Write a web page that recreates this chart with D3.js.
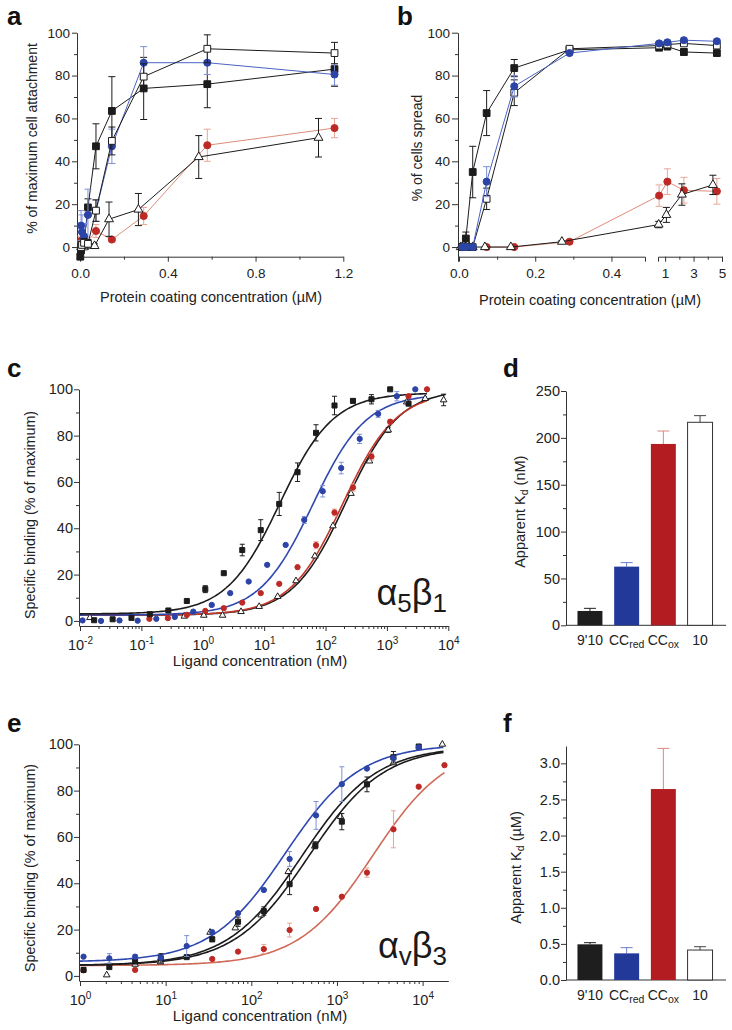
<!DOCTYPE html>
<html>
<head>
<meta charset="utf-8">
<script src="https://cdn.jsdelivr.net/npm/d3@7"></script>
<style>
  body { margin: 0; background: #fff; }
  svg { display: block; font-family: "Liberation Sans", Arial, sans-serif; }
  .domain, .tick line { stroke: #333; stroke-width: 1; }
  .tick text { fill: #222; }
</style>
</head>
<body>
<svg id="fig" width="732" height="1030"></svg>
<script>
// ---- panel a : cell attachment (x in uM, y in %) ----
const aX9 = [0.001, 0.0045, 0.009, 0.018, 0.036, 0.0725, 0.145, 0.29, 0.58, 1.16];
const aY9 = [-4.5, -1.5, 0.5, 2, 18.5, 47, 63.5, 74, 76, 83];
const aE9 = [1, 1, 1.5, 2, 4, 10.5, 16, 14.5, 11, 8];
const aX10 = [0.0045, 0.009, 0.018, 0.036, 0.0725, 0.145, 0.29, 0.58, 1.16];
const aY10 = [0, 1, 2, 1.5, 17, 49.5, 79.5, 92.5, 90.5];
const aE10 = [1, 1.5, 2, 2, 5, 6.5, 6, 6.5, 5];
const aXr = [0.0045, 0.009, 0.018, 0.036, 0.0725, 0.145, 0.29, 0.58, 1.16];
const aYr = [10, 7, 5, 15, 17, 47, 86, 86, 80.5];
const aEr = [7, 8, 6, 12, 5, 8, 7.5, 5.5, 5];
const aXo = [0.0045, 0.018, 0.0725, 0.145, 0.29, 0.58, 1.16];
const aYo = [3, 0.5, 7.5, 3.5, 14.5, 47.5, 55.5];
const aEo = [2, 2, 3, 1, 4, 7.5, 4.5];
const aXt = [0.0045, 0.018, 0.066, 0.132, 0.266, 0.541, 1.087];
const aYt = [0, 0, 0.5, 13, 17.5, 42, 51];
const aEt = [1, 1, 1, 8, 7.5, 10, 9];

// ---- panel b : cell spreading ----
const bX = [0.009, 0.018, 0.036, 0.0725, 0.145, 0.29, 0.58, 1.16, 2.32, 4.64];
const bY9 = [0, 4, 35, 62.5, 83.5, 92, 93, 93.5, 91, 90.5];
const bE9 = [0, 3, 12, 10.5, 4, 1, 1, 1, 1.5, 1];
const bY10 = [0, 0, 0, 22.5, 72, 92.5, 94, 94.5, 95, 94];
const bE10 = [0, 0, 0, 5, 6, 1, 1, 1, 1, 1];
const bYr = [0, 0, 0, 30.5, 75, 90.5, 95, 95.5, 96.5, 96];
const bEr = [0, 0, 0, 7, 5, 1, 1, 1, 1, 1];
const bXo = [0.0725, 0.145, 0.29, 0.58, 1.16, 2.32, 4.64];
const bYo = [0, 0, 2.5, 24, 30.5, 26.5, 26];
const bEo = [0, 0, 0.5, 5, 6, 6, 6];
const bXt = [0.0045, 0.009, 0.018, 0.027, 0.036, 0.068, 0.136, 0.27, 0.545, 1.09, 2.18, 4.36];
const bYt = [0, 0, 0, 0, 0, 0, 0, 2.5, 10.5, 15, 24.5, 29];
const bEt = [0, 0, 0, 0, 0, 0, 0, 0.5, 1.5, 3.5, 5, 4.5];

// ---- panel c : a5b1 binding (nM) ----
const cX9 = [0.017, 0.034, 0.069, 0.137, 0.275, 0.55, 1.1, 2.2, 4.4, 8.8, 17.6, 35, 70, 140, 280, 560, 1130, 2250];
const cY9 = [0.3, 0.7, 1.3, 2.9, 4.5, 8.6, 13.7, 20.6, 30.6, 39.2, 50.5, 64.2, 81.2, 93, 95, 95.7, 100, 93.8];
const cE9 = [0, 0, 0, 0, 0, 0, 1.5, 0, 2.5, 4.5, 5, 4, 3.5, 4, 0.8, 2, 0, 0];
const cXr = [0.011, 0.022, 0.044, 0.087, 0.175, 0.35, 0.7, 1.4, 2.8, 5.6, 11.2, 22.4, 45, 90, 180, 360, 720, 1450, 2900];
const cYr = [0.2, 0, 0.2, 0.1, 0.9, 1.7, 4, 6.9, 12, 17, 24.2, 32.8, 43.6, 56, 66, 78.6, 89.4, 97, 100];
const cEr = [0, 0, 0, 0, 0, 0, 0, 0, 0, 0, 0, 0, 1.5, 2.5, 2.5, 2, 1.5, 2, 0];
const cXo = [0.135, 0.27, 0.55, 1.1, 2.2, 4.4, 8.8, 17.6, 35, 70, 140, 280, 560, 1130, 2250, 4500];
const cYo = [0.9, 1.2, 2.6, 4.3, 5.5, 7.9, 12, 16, 23.2, 32.7, 46.8, 57.6, 71, 86, 97, 100];
const cEo = [0, 0, 0, 0, 0, 0, 0, 0, 0, 1.5, 1.5, 1.5, 1.5, 1, 0, 0];
const cXt = [0.0145, 0.5, 1.04, 2.1, 4.2, 8.3, 16.6, 33, 67, 132, 260, 520, 1050, 2100, 4200, 8400];
const cYt = [1.4, 2, 2.4, 2.4, 4, 6.2, 10.5, 17.3, 28, 41, 55, 69, 82.4, 94.5, 96, 95.4];
const cEt = [0, 0, 0, 0, 0, 0, 0, 0, 0, 0, 0, 0, 1, 0, 0, 2.5];

// ---- panel e : avb3 binding (nM) ----
const eX9 = [1.1, 2.2, 4.4, 8.8, 17.6, 35, 70, 140, 280, 560, 1140, 2240, 4560, 9000];
const eY9 = [2.6, 3.8, 6.2, 7.6, 8.1, 15.8, 23.4, 28, 39.6, 56.4, 66.6, 82.7, 94.4, 99];
const eE9 = [1, 0.5, 0, 2, 0.5, 1, 2, 1.8, 4.5, 1.5, 3.5, 3.2, 2.5, 1];
const eXr = [1.1, 2.2, 4.4, 8.8, 17.6, 35, 70, 140, 280, 570, 1140, 2240, 4560, 9000];
const eYr = [8.3, 7.6, 8.3, 7.8, 12.9, 18.9, 27.1, 37.1, 50.5, 69.3, 82.8, 89.5, 94, 98.7];
const eEr = [0, 2, 0.8, 0, 4.5, 0, 0, 0, 3.2, 6, 7.5, 0, 0, 0];
const eXo = [1.1, 4.4, 8.6, 35, 70, 140, 280, 570, 1140, 2240, 4570, 9000, 18000];
const eYo = [2.4, 2.6, 6.6, 7.3, 10.5, 11.6, 19.8, 28.9, 34.2, 44.6, 63.3, 81.7, 91];
const eEo = [0, 0, 0, 0, 0, 2, 3, 0, 0, 2, 8, 0, 0];
const eXt = [2.05, 4.4, 8.7, 33, 65, 130, 270, 550, 1100, 4560, 17000];
const eYt = [0.4, 5, 6, 18.8, 20.7, 26.3, 45, 56, 68.8, 92, 100];

// ---- fitted one-site curves: [bottom, top, Kd(nM), x-start, x-end] ----
const cFit9 = [3, 98.5, 18, 0.01, 4500];
const cFitR = [2.5, 98, 62, 0.01, 4500];
const cFitO = [2.5, 99, 192, 0.01, 4500];
const cFitT = [2.5, 100, 215, 0.01, 9000];
const eFit9 = [4.5, 99, 470, 1, 17500];
const eFitR = [6, 100, 250, 1, 17500];
const eFitO = [4.5, 100, 2650, 1, 18000];
const eFitT = [4.5, 99, 390, 1, 17500];

// ---- panels d, f : apparent Kd bars ----
const barCats = ["9'10", "CCred", "CCox", "10"];
const dKd = [15.3, 62.6, 193.5, 216.6];
const dErr = [2.8, 4.3, 13.8, 7.1];
const fKd = [0.494, 0.369, 2.644, 0.415];
const fErr = [0.023, 0.079, 0.563, 0.046];

const svg = d3.select("#fig");
svg.append("rect").attr("width", 732).attr("height", 1030).attr("fill", "#fff");

const styles = {
  k9:  { sym: d3.symbolSquare,   fill: "#1c1c1c", stroke: "#1c1c1c", line: "#1c1c1c", err: "#1c1c1c" },
  k10: { sym: d3.symbolSquare,   fill: "#fff",    stroke: "#1c1c1c", line: "#1c1c1c", err: "#1c1c1c" },
  kr:  { sym: d3.symbolCircle,   fill: "#2c44a6", stroke: "#2c44a6", line: "#4c64c4", err: "#7f90d6" },
  ko:  { sym: d3.symbolCircle,   fill: "#bd2a26", stroke: "#bd2a26", line: "#dd8c7a", err: "#eaa598" },
  kt:  { sym: d3.symbolTriangle, fill: "#fff",    stroke: "#1c1c1c", line: "#1c1c1c", err: "#1c1c1c" }
};
const symSize = { k9: 46, k10: 46, kr: 40, ko: 40, kt: 34 };

function label(txt, x, y) {
  svg.append("text").attr("x", x).attr("y", y)
    .attr("font-size", 26).attr("font-weight", "bold").attr("fill", "#111").text(txt);
}

function yTitle(g, x, y, txt, size) {
  return g.append("text").attr("transform", `translate(${x},${y}) rotate(-90)`)
    .attr("text-anchor", "middle").attr("font-size", size).attr("fill", "#222").text(txt);
}

// draw one series: connecting line (optional), error bars, markers
function drawSeries(g, xs, ys, es, sx, sy, key, opt) {
  const st = styles[key];
  const pts = xs.map((x, i) => ({ x, y: ys[i], e: es ? es[i] : 0 }));
  if (opt.line) {
    g.append("path").datum(pts)
      .attr("fill", "none").attr("stroke", st.line).attr("stroke-width", 1)
      .attr("d", d3.line().x(d => sx(d.x)).y(d => sy(d.y)));
  }
  const eb = g.append("g").attr("stroke", st.err).attr("stroke-width", 1);
  pts.filter(d => d.e > 0).forEach(d => {
    const x = sx(d.x), y1 = sy(d.y - d.e), y2 = sy(d.y + d.e), c = opt.cap;
    eb.append("path").attr("fill", "none")
      .attr("d", `M${x},${y1}V${y2}M${x - c},${y1}H${x + c}M${x - c},${y2}H${x + c}`);
  });
  g.append("g").selectAll("path").data(pts).join("path")
    .attr("transform", d => `translate(${sx(d.x)},${sy(d.y)})`)
    .attr("d", d3.symbol().type(st.sym).size(symSize[key] * opt.scale))
    .attr("fill", st.fill).attr("stroke", st.stroke).attr("stroke-width", 1);
}

function drawFit(g, fit, sx, sy, color) {
  const [bot, top, kd, x0, x1] = fit;
  const l0 = Math.log10(x0), l1 = Math.log10(x1);
  const xs = d3.range(0, 201).map(i => Math.pow(10, l0 + (l1 - l0) * i / 200));
  g.append("path").datum(xs)
    .attr("fill", "none").attr("stroke", color).attr("stroke-width", 1.6)
    .attr("d", d3.line().x(d => sx(d)).y(d => sy(bot + (top - bot) / (1 + kd / d))));
}

function minorTicks(g, axisFn, scale, vals, size) {
  g.append("g").call(axisFn(scale).tickValues(vals).tickSize(size).tickFormat(""))
    .call(s => s.select(".domain").remove());
}

function logLabels(sel) {
  sel.selectAll(".tick text").each(function (d) {
    const t = d3.select(this).text("10");
    t.append("tspan").attr("dy", "-0.6em").attr("font-size", "10px").text(Math.round(Math.log10(d)));
  });
}

// ================= panel a =================
(function () {
  const sx = d3.scaleLinear().domain([-0.014, 1.2]).range([77, 343.3]);
  const sy = d3.scaleLinear().domain([-4.5, 100]).range([256.7, 32.7]);
  const g = svg.append("g");

  g.append("g").attr("transform", "translate(0,256.7)")
    .call(d3.axisBottom(sx).tickValues([0, 0.4, 0.8, 1.2]).tickFormat(d3.format(".1f"))
      .tickSize(5).tickSizeOuter(0).tickPadding(7))
    .attr("font-size", 13.5);
  minorTicks(g.append("g").attr("transform", "translate(0,256.7)"), d3.axisBottom, sx, [0.2, 0.6, 1.0], 3);
  g.append("g").attr("transform", "translate(77,0)")
    .call(d3.axisLeft(sy).tickValues([0, 20, 40, 60, 80, 100]).tickSize(5).tickSizeOuter(0).tickPadding(2))
    .attr("font-size", 13.5);
  minorTicks(g.append("g").attr("transform", "translate(77,0)"), d3.axisLeft, sy, [10, 30, 50, 70, 90], 3);

  const o = { line: true, cap: 3.5, scale: 1 };
  drawSeries(g, aXo, aYo, aEo, sx, sy, "ko", o);
  drawSeries(g, aXt, aYt, aEt, sx, sy, "kt", o);
  drawSeries(g, aX9, aY9, aE9, sx, sy, "k9", o);
  drawSeries(g, aXr, aYr, aEr, sx, sy, "kr", o);
  drawSeries(g, aX10, aY10, aE10, sx, sy, "k10", o);

  g.append("text").attr("x", 211).attr("y", 302).attr("text-anchor", "middle")
    .attr("font-size", 14.5).attr("fill", "#222").text("Protein coating concentration (\u00b5M)");
  yTitle(g, 37, 138.5, "% of maximum cell attachment", 14);
  label("a", 7, 25);
})();

// ================= panel b (broken x axis) =================
(function () {
  const s1 = d3.scaleLinear().domain([-0.0026, 0.488]).range([458, 645]);
  const s2 = d3.scaleLinear().domain([0.5, 5]).range([658, 722]);
  const sx = v => (v <= 0.5 ? s1(v) : s2(v));
  const sy = d3.scaleLinear().domain([-4.5, 100]).range([256.7, 32.7]);
  const g = svg.append("g");

  g.append("g").attr("transform", "translate(0,256.7)")
    .call(d3.axisBottom(s1).tickValues([0, 0.2, 0.4]).tickFormat(d3.format(".1f"))
      .tickSize(5).tickSizeOuter(5).tickPadding(7))
    .attr("font-size", 13.5);
  minorTicks(g.append("g").attr("transform", "translate(0,256.7)"), d3.axisBottom, s1, [0.1, 0.3], 3);
  g.append("g").attr("transform", "translate(0,256.7)")
    .call(d3.axisBottom(s2).tickValues([1, 3, 5]).tickFormat(d3.format("d"))
      .tickSize(5).tickSizeOuter(5).tickPadding(7))
    .attr("font-size", 13.5);
  minorTicks(g.append("g").attr("transform", "translate(0,256.7)"), d3.axisBottom, s2, [2, 4], 3);
  g.append("g").attr("transform", "translate(458,0)")
    .call(d3.axisLeft(sy).tickValues([0, 20, 40, 60, 80, 100]).tickSize(6).tickSizeOuter(0).tickPadding(2))
    .attr("font-size", 13.5);
  minorTicks(g.append("g").attr("transform", "translate(458,0)"), d3.axisLeft, sy, [10, 30, 50, 70, 90], 3);

  const o = { line: true, cap: 3.5, scale: 1 };
  drawSeries(g, bXo, bYo, bEo, sx, sy, "ko", o);
  drawSeries(g, bXt, bYt, bEt, sx, sy, "kt", o);
  drawSeries(g, bX, bY9, bE9, sx, sy, "k9", o);
  drawSeries(g, bX, bY10, bE10, sx, sy, "k10", o);
  drawSeries(g, bX, bYr, bEr, sx, sy, "kr", o);

  g.append("text").attr("x", 590).attr("y", 305).attr("text-anchor", "middle")
    .attr("font-size", 14.5).attr("fill", "#222").text("Protein coating concentration (\u00b5M)");
  yTitle(g, 422, 148, "% of cells spread", 14);
  label("b", 397, 25);
})();

// ================= binding panels c, e =================
function bindingPanel(cfg) {
  const sx = d3.scaleLog().domain(cfg.xDom).range([80, 448.3]);
  const sy = d3.scaleLinear().domain([-2.2, 100]).range([cfg.yBase, cfg.yTop]);
  const g = svg.append("g");

  const decades = d3.range(Math.round(Math.log10(cfg.xDom[0])), 5).map(k => Math.pow(10, k));
  const minors = [];
  decades.forEach(d => d3.range(2, 10).forEach(m => { if (d * m <= cfg.xDom[1]) minors.push(d * m); }));

  g.append("g").attr("transform", `translate(0,${cfg.yBase})`)
    .call(d3.axisBottom(sx).tickValues(decades).tickSize(5).tickSizeOuter(0).tickPadding(9))
    .attr("font-size", 14.5).call(logLabels);
  minorTicks(g.append("g").attr("transform", `translate(0,${cfg.yBase})`), d3.axisBottom, sx, minors, 3);
  g.append("g").attr("transform", "translate(79,0)")
    .call(d3.axisLeft(sy).tickValues([0, 20, 40, 60, 80, 100]).tickSize(5).tickSizeOuter(0).tickPadding(1))
    .attr("font-size", 14.5);
  minorTicks(g.append("g").attr("transform", "translate(79,0)"), d3.axisLeft, sy, [10, 30, 50, 70, 90], 3);

  cfg.fits.forEach(f => drawFit(g, f[0], sx, sy, f[1]));
  const o = { line: false, cap: 2.5, scale: 0.55 };
  cfg.series.forEach(s => drawSeries(g, s[0], s[1], s[2], sx, sy, s[3], o));

  g.append("text").attr("x", 260).attr("y", cfg.yBase + 39.5).attr("text-anchor", "middle")
    .attr("font-size", 15).attr("fill", "#222").text("Ligand concentration (nM)");
  yTitle(g, 34.5, cfg.yTitleY, "Specific binding (% of maximum)", 14.3);

  const gr = g.append("text").attr("x", 447).attr("y", cfg.greekY).attr("text-anchor", "end")
    .attr("font-size", 36).attr("fill", "#1a1a1a");
  gr.append("tspan").text("\u03b1");
  gr.append("tspan").attr("font-size", 26).attr("dy", 7).text(cfg.sub1);
  gr.append("tspan").attr("dy", -7).text("\u03b2");
  gr.append("tspan").attr("font-size", 26).attr("dy", 7).text(cfg.sub2);
  label(cfg.letter, 7, cfg.letterY);
}

bindingPanel({
  xDom: [0.01, 10000], yBase: 626, yTop: 389.3, yTitleY: 515, greekY: 605,
  sub1: "5", sub2: "1", letter: "c", letterY: 377,
  fits: [[cFitT, "#1c1c1c"], [cFitO, "#c0392b"], [cFitR, "#2f48b0"], [cFit9, "#1c1c1c"]],
  series: [[cXt, cYt, cEt, "kt"], [cXo, cYo, cEo, "ko"], [cXr, cYr, cEr, "kr"], [cX9, cY9, cE9, "k9"]]
});

bindingPanel({
  xDom: [1, 19950], yBase: 981, yTop: 744.3, yTitleY: 868, greekY: 958,
  sub1: "v", sub2: "3", letter: "e", letterY: 732,
  fits: [[eFitO, "#cf6a58"], [eFitT, "#1c1c1c"], [eFit9, "#1c1c1c"], [eFitR, "#2f48b0"]],
  series: [[eXo, eYo, eEo, "ko"], [eXt, eYt, null, "kt"], [eX9, eY9, eE9, "k9"], [eXr, eYr, eEr, "kr"]]
});

// ================= bar panels d, f =================
function barPanel(cfg) {
  const sx = d3.scaleBand().domain(barCats).range([571.6, 718.4]).paddingInner(0.32).paddingOuter(0.16);
  const sy = d3.scaleLinear().domain(cfg.yDom).range([cfg.yBase, cfg.yTop]);
  const g = svg.append("g");
  const fills = ["#1e1e1e", "#23399a", "#b31c20", "#fff"];
  const errs = ["#1e1e1e", "#6c7fcc", "#d98a80", "#444"];

  g.append("g").attr("transform", "translate(566,0)")
    .call(d3.axisLeft(sy).tickValues(cfg.ticks).tickFormat(cfg.fmt).tickSize(5).tickSizeOuter(0).tickPadding(1))
    .attr("font-size", 14.5);
  minorTicks(g.append("g").attr("transform", "translate(566,0)"), d3.axisLeft, sy, cfg.minor, 3);
  g.append("line").attr("x1", 566).attr("x2", 726).attr("y1", cfg.yBase).attr("y2", cfg.yBase)
    .attr("stroke", "#333");

  barCats.forEach((c, i) => {
    const x = sx(c), w = sx.bandwidth(), cx = x + w / 2;
    const yTop = sy(cfg.vals[i]), yErr = sy(cfg.vals[i] + cfg.errs[i]);
    g.append("path").attr("stroke", errs[i]).attr("fill", "none")
      .attr("d", `M${cx},${yTop}V${yErr}M${cx - 6},${yErr}H${cx + 6}`);
    g.append("rect").attr("x", x).attr("width", w).attr("y", yTop).attr("height", cfg.yBase - yTop)
      .attr("fill", fills[i]).attr("stroke", i === 3 ? "#333" : "none");
    const t = g.append("text").attr("x", cx).attr("y", cfg.yBase + 20).attr("text-anchor", "middle")
      .attr("font-size", 14).attr("fill", "#222");
    if (c.startsWith("CC")) {
      t.append("tspan").text("CC");
      t.append("tspan").attr("font-size", 10.5).attr("dy", 3).text(c.slice(2));
    } else {
      t.text(c);
    }
  });

  const yt = g.append("text").attr("transform", `translate(${cfg.titleX},${cfg.titleY}) rotate(-90)`)
    .attr("text-anchor", "middle").attr("font-size", 14.5).attr("fill", "#222");
  yt.append("tspan").text("Apparent K");
  yt.append("tspan").attr("font-size", 10.5).attr("dy", 3).text("d");
  yt.append("tspan").attr("dy", -3).text(cfg.unit);
  label(cfg.letter, 503, cfg.letterY);
}

barPanel({
  yDom: [0, 250], yBase: 625.3, yTop: 391, ticks: [0, 50, 100, 150, 200, 250],
  minor: [25, 75, 125, 175, 225], fmt: d3.format("d"), vals: dKd, errs: dErr,
  titleX: 525, titleY: 511.7, unit: " (nM)", letter: "d", letterY: 377
});

barPanel({
  yDom: [0, 3.24], yBase: 980, yTop: 746, ticks: [0, 0.5, 1, 1.5, 2, 2.5, 3],
  minor: [0.25, 0.75, 1.25, 1.75, 2.25, 2.75, 3.25].filter(v => v <= 3.24), fmt: d3.format(".1f"),
  vals: fKd, errs: fErr, titleX: 521, titleY: 867.5, unit: " (\u00b5M)", letter: "f", letterY: 732
});
</script>
</body>
</html>
